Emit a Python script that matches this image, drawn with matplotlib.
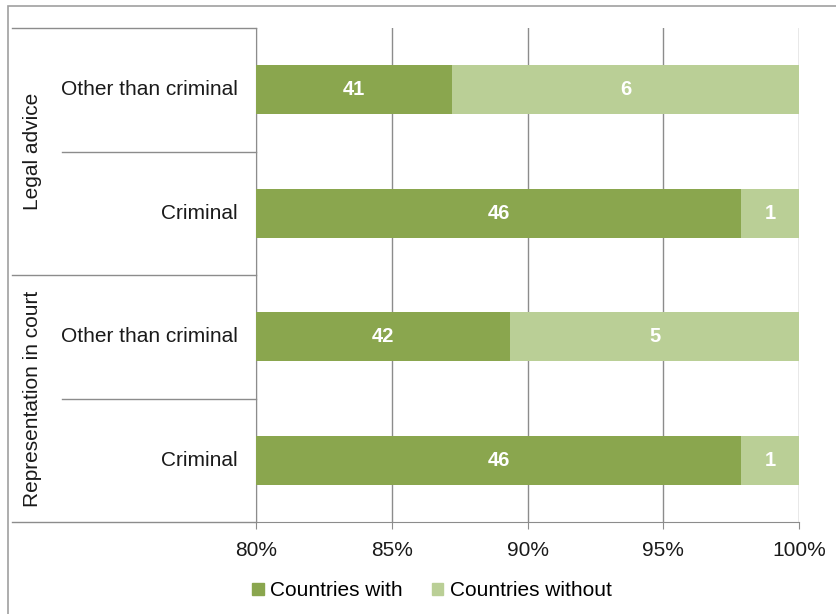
import matplotlib
matplotlib.use("Agg")
import matplotlib.pyplot as plt
from matplotlib.patches import Rectangle, Patch
from matplotlib.lines import Line2D

plt.rcParams['font.family'] = ['Liberation Sans', 'DejaVu Sans']

categories = ["Other than criminal", "Criminal", "Other than criminal", "Criminal"]
groups = ["Legal advice", "Representation in court"]
with_counts = [41, 46, 42, 46]
without_counts = [6, 1, 5, 1]
xticks = [80, 85, 90, 95, 100]
xticklabels = ["80%", "85%", "90%", "95%", "100%"]

c_with = "#8AA64E"
c_without = "#BACF96"
grid_c = "#8C8C8C"
FS = 15

W, H = 837, 614
fig = plt.figure(figsize=(W / 100, H / 100), dpi=100)
ax = fig.add_axes([256 / W, 1 - 522 / H, (799 - 256) / W, (522 - 28) / H])

# outer frame
fig.patches.append(Rectangle((8 / W, -0.02), 1.0, 1 - 6 / H + 0.02, transform=fig.transFigure,
                             fill=False, edgecolor="#A0A0A0", lw=1.2))

ypos = list(range(len(categories)))
tot = [a + b for a, b in zip(with_counts, without_counts)]
pw = [a / t * 100 for a, t in zip(with_counts, tot)]
pwo = [b / t * 100 for b, t in zip(without_counts, tot)]

ax.barh(ypos, pw, height=0.4, color=c_with, zorder=3)
ax.barh(ypos, pwo, left=pw, height=0.4, color=c_without, zorder=3)

for y, a, b, p, q in zip(ypos, with_counts, without_counts, pw, pwo):
    ax.text((80 + p) / 2, y, str(a), ha="center", va="center", color="white",
            fontsize=14.5, fontweight="bold", zorder=4)
    ax.text(p + q / 2, y, str(b), ha="center", va="center", color="white",
            fontsize=14.5, fontweight="bold", zorder=4)

ax.set_xlim(80, 100)
ax.set_ylim(3.5, -0.5)
ax.set_xticks(xticks)
ax.set_xticklabels(xticklabels, fontsize=FS)
ax.set_yticks([])
for s in ["top", "right"]:
    ax.spines[s].set_visible(False)
ax.spines["left"].set_color(grid_c)
ax.spines["bottom"].set_color(grid_c)
ax.tick_params(axis="x", direction="out", length=5, pad=9)
ax.tick_params(axis="x", colors=grid_c, labelcolor="#1a1a1a")
ax.xaxis.grid(True, color=grid_c, lw=1, zorder=0)
ax.set_axisbelow(True)

# left category structure
axw = 799 - 256
x_outer = (12 - 256) / axw
x_inner = (62 - 256) / axw
tr = ax.get_yaxis_transform()
for yb in [-0.5, 1.5, 3.5]:
    ax.add_line(Line2D([x_outer, 0], [yb, yb], transform=tr, color=grid_c, lw=1, clip_on=False))
for yb in [0.5, 2.5]:
    ax.add_line(Line2D([x_inner, 0], [yb, yb], transform=tr, color=grid_c, lw=1, clip_on=False))

x_lab = -18 / axw
for y, c in zip(ypos, categories):
    ax.text(x_lab, y, c, transform=tr, ha="right", va="center", fontsize=FS, color="#1a1a1a")

x_grp = (33 - 256) / axw
for i, g in enumerate(groups):
    ax.text(x_grp, 2 * i + 0.5, g, transform=tr, ha="center", va="center", rotation=90,
            fontsize=FS, color="#1a1a1a")

handles = [Patch(color=c_with, label="Countries with"), Patch(color=c_without, label="Countries without")]
fig.legend(handles=handles, loc="center", bbox_to_anchor=(432 / W, 1 - 591 / H), ncol=2,
           frameon=False, fontsize=FS, handlelength=0.55, handleheight=0.55,
           handletextpad=0.3, columnspacing=1.4)

fig.savefig("out.png", dpi=100)
